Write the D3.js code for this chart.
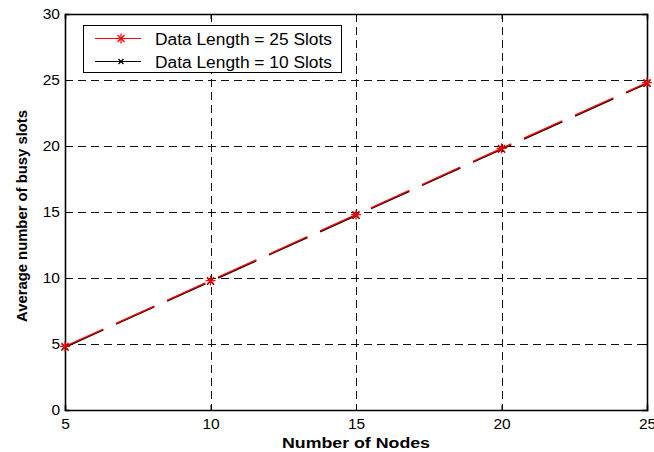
<!DOCTYPE html>
<html><head><meta charset="utf-8">
<script src="https://cdn.jsdelivr.net/npm/d3@7"></script>
<style>body{margin:0;background:#fff}svg{display:block}text{font-family:Arial,"Liberation Sans",sans-serif}</style>
</head><body><svg id="c" width="654" height="452"></svg>
<script>
const nodes = [5, 10, 15, 20, 25];
const len25 = [4.82, 9.8, 14.8, 19.82, 24.8];
const len10 = [4.76, 9.74, 14.74, 19.76, 24.74];
const xTicks = [5, 10, 15, 20, 25];
const yTicks = [0, 5, 10, 15, 20, 25, 30];
const seriesNames = ["Data Length = 25 Slots", "Data Length = 10 Slots"];

const svg = d3.select("#c");
const L = 65, R = 647, T = 14, B = 410;
const x = d3.scaleLinear().domain([5, 25]).range([L, R]);
const y = d3.scaleLinear().domain([0, 30]).range([B, T]);
const px = v => Math.round(v) + 0.5;

// grid
const g = svg.append("g");
g.selectAll("line.gx").data(xTicks.slice(1, -1)).enter().append("line")
  .attr("x1", d => px(x(d))).attr("x2", d => px(x(d))).attr("y1", T).attr("y2", B)
  .attr("stroke", "#111").attr("stroke-width", 1).attr("stroke-dasharray", "8,5");
g.selectAll("line.gy").data(yTicks.slice(1, -1)).enter().append("line")
  .attr("y1", d => px(y(d))).attr("y2", d => px(y(d))).attr("x1", L).attr("x2", R)
  .attr("stroke", "#111").attr("stroke-width", 1).attr("stroke-dasharray", "8,5");

// axes
const xa = svg.append("g").attr("transform", `translate(0,${B})`)
  .call(d3.axisBottom(x).tickValues(xTicks).tickSize(-5).tickPadding(8));
const xt = svg.append("g").attr("transform", `translate(0,${T})`)
  .call(d3.axisTop(x).tickValues(xTicks).tickSize(-5).tickFormat(""));
const ya = svg.append("g").attr("transform", `translate(${L},0)`)
  .call(d3.axisLeft(y).tickValues(yTicks).tickSize(-5).tickPadding(5));
const yr = svg.append("g").attr("transform", `translate(${R},0)`)
  .call(d3.axisRight(y).tickValues(yTicks).tickSize(-5).tickFormat(""));
[xa, xt, ya, yr].forEach(a => {
  a.select(".domain").attr("stroke", "#000").attr("stroke-width", 1.6);
  a.selectAll(".tick line").attr("stroke", "#000");
  a.selectAll("text").attr("font-size", 15.5).attr("fill", "#000")
    .attr("font-family", "Arial, 'Liberation Sans', sans-serif");
});

// lines
const line = d3.line().x((d, i) => x(nodes[i])).y(d => y(d));
svg.append("path").datum(len10).attr("d", line).attr("fill", "none")
  .attr("stroke", "#000").attr("stroke-width", 1.6).attr("stroke-dasharray", "42,14");
svg.append("path").datum(len25).attr("d", line).attr("fill", "none")
  .attr("stroke", "#ff0000").attr("stroke-width", 1.4).attr("stroke-dasharray", "42,14");

function star(sel, cx, cy, color, s) {
  [[-s, 0, s, 0], [0, -s, 0, s], [-s * .7, -s * .7, s * .7, s * .7], [-s * .7, s * .7, s * .7, -s * .7]]
    .forEach(p => sel.append("line").attr("x1", cx + p[0]).attr("y1", cy + p[1]).attr("x2", cx + p[2]).attr("y2", cy + p[3])
      .attr("stroke", color).attr("stroke-width", 1.2));
}
function cross(sel, cx, cy, color, s) {
  [[-s, -s, s, s], [-s, s, s, -s]]
    .forEach(p => sel.append("line").attr("x1", cx + p[0]).attr("y1", cy + p[1]).attr("x2", cx + p[2]).attr("y2", cy + p[3])
      .attr("stroke", color).attr("stroke-width", 1.2));
}
const mk = svg.append("g");
len10.forEach((v, i) => cross(mk, x(nodes[i]), y(v), "#000", 3.5));
len25.forEach((v, i) => star(mk, x(nodes[i]), y(v), "#ff0000", 5));

// legend
const lg = svg.append("g");
lg.append("rect").attr("x", 83.5).attr("y", 25.5).attr("width", 258).attr("height", 47)
  .attr("fill", "#fff").attr("stroke", "#000").attr("stroke-width", 1);
const ly = [38.5, 61.5], colors = ["#ff0000", "#000"];
seriesNames.forEach((n, i) => {
  lg.append("line").attr("x1", 95).attr("x2", 141).attr("y1", ly[i]).attr("y2", ly[i])
    .attr("stroke", colors[i]).attr("stroke-width", 1);
  if (i === 0) star(lg, 121, ly[i], "#ff0000", 5); else cross(lg, 121, ly[i], "#000", 2.5);
  lg.append("text").attr("x", 155).attr("y", ly[i] + 6).attr("font-size", 16)
    .attr("textLength", 177).attr("lengthAdjust", "spacingAndGlyphs").attr("fill", "#000").text(n);
});

// titles
svg.append("text").attr("x", x(15)).attr("y", 448).attr("text-anchor", "middle")
  .attr("font-size", 14).attr("font-weight", "bold")
  .attr("textLength", 148).attr("lengthAdjust", "spacingAndGlyphs").text("Number of Nodes");
svg.append("text").attr("transform", `translate(27,${(T + B) / 2 + 4}) rotate(-90)`).attr("text-anchor", "middle")
  .attr("font-size", 14).attr("font-weight", "bold")
  .attr("textLength", 212).attr("lengthAdjust", "spacingAndGlyphs").text("Average number of busy slots");
</script></body></html>
